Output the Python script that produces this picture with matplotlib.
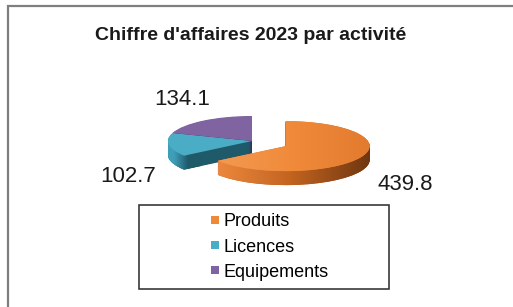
import numpy as np
import matplotlib.pyplot as plt
from matplotlib.patches import Rectangle
from matplotlib.lines import Line2D
from matplotlib.colors import LinearSegmentedColormap

# data
categories = ['Produits', 'Licences', 'Equipements']
values = [439.8, 102.7, 134.1]
value_labels = ['439.8', '102.7', '134.1']
explode = [0.45, 0, 0]

top_colors = ['#F0883A', '#4BACC6', '#8064A2']
side_colors = ['#C8662A', '#1F5A6A', '#3B2B55']

plt.rcParams['font.family'] = ['Liberation Sans', 'DejaVu Sans']

W, H = 513, 307
fig = plt.figure(figsize=(W / 100, H / 100), dpi=100)
fig.patch.set_facecolor('white')

# outer chart frame (only left/top visible in the crop)
fig.patches.append(Rectangle((7.5 / W, -0.1), 1.2, 1.1 - 6.5 / H, fill=False,
                             ec='#7f7f7f', lw=1.6, transform=fig.transFigure))

fig.text(251 / W, 1 - 35 / H, "Chiffre d'affaires 2023 par activité",
         ha='center', va='center', fontsize=14, fontweight='bold', color='#1a1a1a')

# pie axes: 84 px per unit in x, 25 px per unit in y -> flattened "3d" pie
cx, cy, rx, ry = 252, 141, 84, 25
ax = fig.add_axes([(cx - 1.5 * rx) / W, 1 - (cy + 2.5 * ry) / H, 3 * rx / W, 4 * ry / H])
ax.axis('off')

depth = 14 / ry
side_cmap = LinearSegmentedColormap.from_list('side', ['#EE8A3E', '#C0621F', '#6A3410'])
teal_cmap = LinearSegmentedColormap.from_list('teal', ['#3E9FB8', '#3E9FB8', '#1F5A6A', '#1F5A6A'])
grad = np.linspace(0, 1, 256).reshape(1, -1)

for t in np.linspace(depth, 0.02, 28):
    wedges, _ = ax.pie(values, explode=explode, colors=side_colors, startangle=90,
                       counterclock=False, center=(0, -t), radius=1,
                       wedgeprops=dict(linewidth=0, zorder=1))
    im = ax.imshow(grad, extent=[-0.45, 1.45, -3, 2], cmap=side_cmap, aspect='auto',
                   zorder=1.5, interpolation='bilinear')
    im.set_clip_path(wedges[0])
    im = ax.imshow(grad, extent=[-1.1, -0.6, -3, 2], cmap=teal_cmap, aspect='auto',
                   zorder=1.2, interpolation='bilinear')
    im.set_clip_path(wedges[1])

wedges, _ = ax.pie(values, explode=explode, colors=top_colors, startangle=90,
                   counterclock=False, center=(0, 0), radius=1,
                   wedgeprops=dict(linewidth=0, zorder=2))
top_cmap = LinearSegmentedColormap.from_list('top', ['#F39A52', '#F08A3A', '#E27A2E'])
im = ax.imshow(grad, extent=[-0.45, 1.45, -3, 2], cmap=top_cmap, aspect='auto',
               zorder=2.5, interpolation='bilinear')
im.set_clip_path(wedges[0])

ax.set_aspect('auto')
ax.set_xlim(-1.5, 1.5)
ax.set_ylim(-2.5, 1.5)

# data labels
label_pos = [(405, 185), (128, 176), (182, 100)]
for txt, (px, py) in zip(value_labels, label_pos):
    fig.text(px / W, 1 - py / H, txt, ha='center', va='center', fontsize=16, color='#1a1a1a')

# legend
fig.patches.append(Rectangle((139 / W, 1 - 289 / H), 250 / W, 84 / H, fill=False,
                             ec='#3a3a3a', lw=1.2, transform=fig.transFigure))
handles = [Line2D([], [], marker='s', ls='', markersize=6, markerfacecolor=c,
                  markeredgewidth=0) for c in top_colors]
fig.legend(handles, categories, loc='center', bbox_to_anchor=(269 / W, 1 - 247 / H),
           frameon=False, fontsize=13, handlelength=0.6, handletextpad=0.2,
           labelspacing=0.45, borderpad=0)

fig.savefig('out.png', dpi=100)
